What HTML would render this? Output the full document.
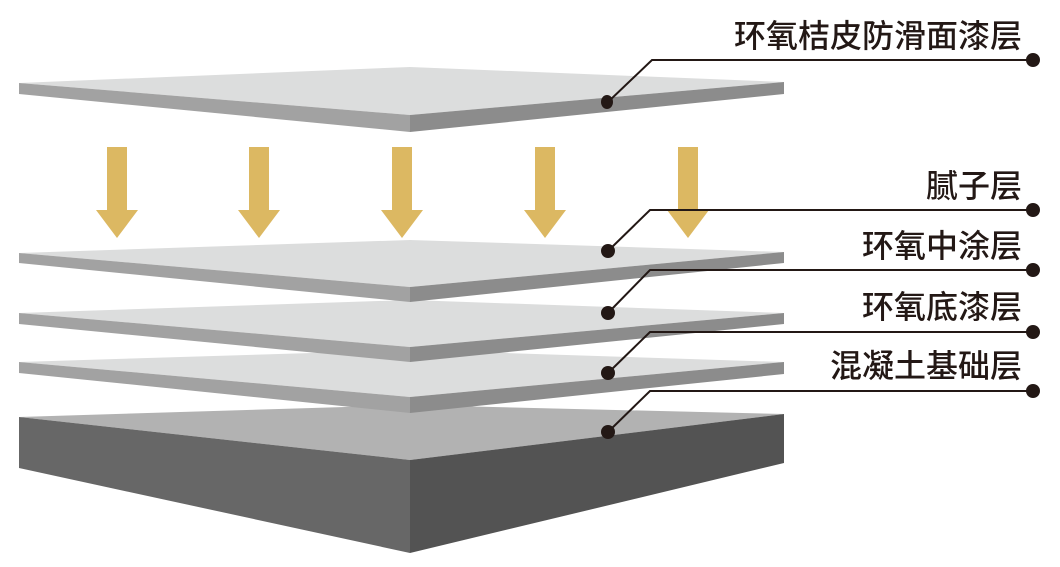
<!DOCTYPE html>
<html><head><meta charset="utf-8"><style>
html,body{margin:0;padding:0;background:#fff;}
svg{display:block}
text{font-family:"Liberation Sans","Noto Sans CJK SC",sans-serif;font-size:32px;fill:#231815;text-anchor:end;font-weight:500}
</style></head><body>
<svg width="1060" height="567" viewBox="0 0 1060 567" xmlns="http://www.w3.org/2000/svg">
<polygon points="19,417 410,405 784,414 410,460" fill="#b2b2b2"/>
<polygon points="19,417 410,460 410,553 19,468" fill="#676767"/>
<polygon points="410,460 784,414 784,463 410,553" fill="#535353"/>
<g>
<polygon points="19,362 410,350 784,362 410,397" fill="#dcdddd"/>
<polygon points="19,362 410,397 410,413 19,373" fill="#a2a2a2"/>
<polygon points="410,397 784,362 784,374 410,413" fill="#8c8c8c"/>
</g>
<g>
<polygon points="19,313 410,300 784,313 410,347" fill="#dcdddd"/>
<polygon points="19,313 410,347 410,362 19,324" fill="#a2a2a2"/>
<polygon points="410,347 784,313 784,324 410,362" fill="#8c8c8c"/>
</g>
<g>
<polygon points="19,253 410,240 784,252 410,287" fill="#dcdddd"/>
<polygon points="19,253 410,287 410,302 19,263" fill="#a2a2a2"/>
<polygon points="410,287 784,252 784,263 410,302" fill="#8c8c8c"/>
</g>
<g>
<polygon points="19,83 410,67 784,82 410,115" fill="#dcdddd"/>
<polygon points="19,83 410,115 410,132 19,94" fill="#a2a2a2"/>
<polygon points="410,115 784,82 784,94 410,132" fill="#8c8c8c"/>
</g>
<g fill="#dcb862">
<polygon points="107,147 127,147 127,210 138,210 117,238 96,210 107,210"/>
<polygon points="249,147 269,147 269,210 280,210 259,238 238,210 249,210"/>
<polygon points="392,147 412,147 412,210 423,210 402,238 381,210 392,210"/>
<polygon points="535,147 555,147 555,210 566,210 545,238 524,210 535,210"/>
<polygon points="678,147 698,147 698,210 709,210 688,238 667,210 678,210"/>
</g>
<g stroke="#231815" stroke-width="2" fill="none">
<polyline points="608,102 652,60 1033,60"/>
<polyline points="608,251 650,210 1033,210"/>
<polyline points="608,313 650,270 1033,270"/>
<polyline points="608,373 650,332 1033,332"/>
<polyline points="608,432 650,391 1033,391"/>
</g>
<g fill="#231815">
<ellipse cx="607" cy="102" rx="6" ry="7"/>
<circle cx="608" cy="251" r="7"/>
<circle cx="608" cy="313" r="7"/>
<circle cx="608" cy="373" r="7"/>
<circle cx="608" cy="432" r="7"/>
<circle cx="1033" cy="60" r="7"/>
<circle cx="1033" cy="210" r="7"/>
<circle cx="1033" cy="270" r="7"/>
<circle cx="1033" cy="332" r="7"/>
<circle cx="1033" cy="391" r="7"/>
</g>
<text x="1022" y="47">环氧桔皮防滑面漆层</text>
<text x="1022" y="197">腻子层</text>
<text x="1022" y="257">环氧中涂层</text>
<text x="1022" y="318">环氧底漆层</text>
<text x="1022" y="377">混凝土基础层</text>
</svg>
</body></html>
